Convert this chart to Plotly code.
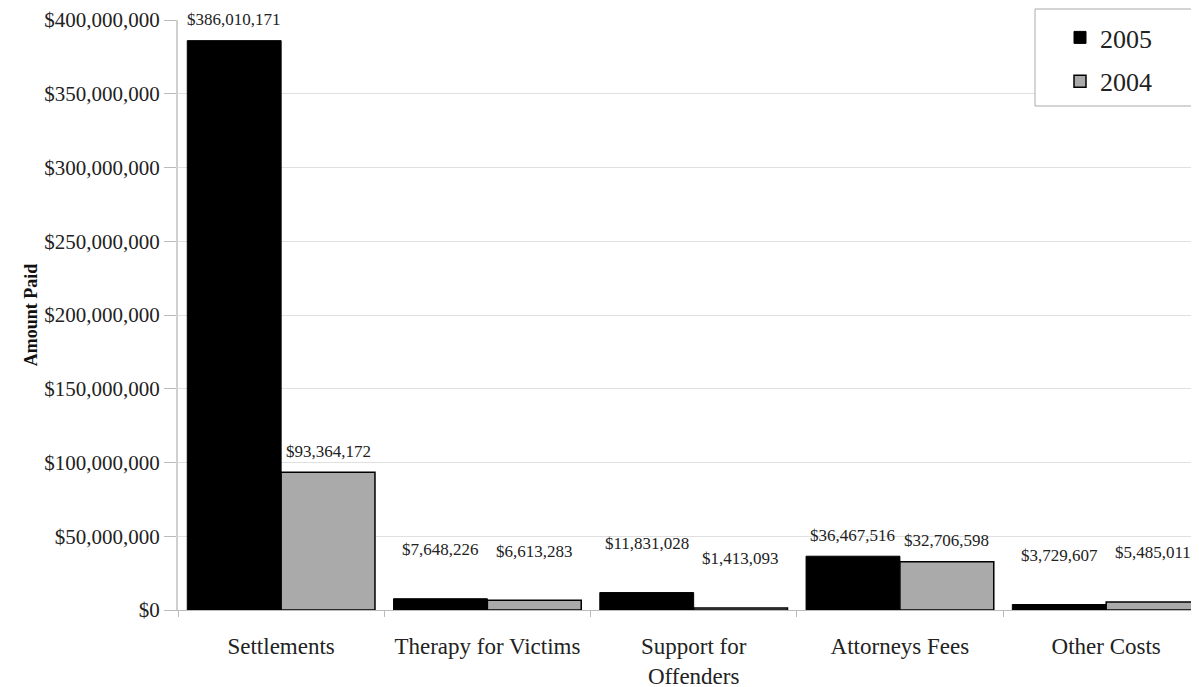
import plotly.graph_objects as go

categories = ["Settlements", "Therapy for Victims", "Support for<br>Offenders", "Attorneys Fees", "Other Costs"]
values_2005 = [386010171, 7648226, 11831028, 36467516, 3729607]
values_2004 = [93364172, 6613283, 1413093, 32706598, 5485011]
y_ticks = [0, 50e6, 100e6, 150e6, 200e6, 250e6, 300e6, 350e6, 400e6]
y_tick_text = ["$0", "$50,000,000", "$100,000,000", "$150,000,000", "$200,000,000",
               "$250,000,000", "$300,000,000", "$350,000,000", "$400,000,000"]

FONT = "Liberation Serif, Times New Roman, serif"
TXT = "#222222"
BARGAP = 0.09

fig = go.Figure()
fig.add_trace(go.Bar(
    x=categories, y=values_2005, name="2005", legendgroup="a",
    marker=dict(color="#000000", line=dict(color="#000000", width=1)),
))
fig.add_trace(go.Bar(
    x=categories, y=values_2004, name="2004", legendgroup="b",
    marker=dict(color="#aaaaaa", line=dict(color="#000000", width=1.5)),
))

# data labels derived from the series values
half = (1 - BARGAP) / 4
annotations = []
for i, (a, b) in enumerate(zip(values_2005, values_2004)):
    for off, v in ((-half, a), (half, b)):
        annotations.append(dict(
            x=i + off, y=v, xref="x", yref="y", text=f"${v:,}", showarrow=False,
            yanchor="middle", yshift=(21 if v > 2e7 else 49),
            font=dict(family=FONT, size=17, color=TXT),
        ))

W, H = 1191, 679
L, R, T, B = 170, 0, 12, 77
pw, ph = W - L - R, H - T - B

fig.update_layout(
    width=W, height=H,
    margin=dict(l=L, r=R, t=T, b=B, autoexpand=False),
    paper_bgcolor="white", plot_bgcolor="white",
    barmode="group", bargap=BARGAP, bargroupgap=0,
    font=dict(family=FONT, color=TXT),
    showlegend=True,
    legend=dict(
        x=(1052 - L) / pw, xanchor="left", y=(H - B - 6) / ph, yanchor="top",
        bgcolor="rgba(0,0,0,0)", borderwidth=0,
        font=dict(family=FONT, size=26, color=TXT),
        tracegroupgap=7, traceorder="grouped",
    ),
    shapes=[dict(
        type="rect", xref="paper", yref="paper",
        x0=(1027 - L) / pw, x1=(W - 1 - L) / pw,
        y0=(H - B - 98) / ph, y1=(H - B - 1) / ph,
        fillcolor="white", line=dict(color="#aaaaaa", width=1), layer="above",
    )],
    annotations=annotations,
)

fig.update_xaxes(
    range=[-0.5, 4.45], automargin=False,
    tickfont=dict(family=FONT, size=23, color=TXT),
    showline=True, linecolor="#bbbbbb", linewidth=1,
    ticks="outside", tickson="boundaries", ticklen=6, tickcolor="#bbbbbb",
    ticklabelstandoff=15,
    showgrid=False,
)
fig.update_yaxes(
    range=[0, 400e6], tickvals=y_ticks, ticktext=y_tick_text, automargin=False,
    tickfont=dict(family=FONT, size=21, color=TXT),
    showline=True, linecolor="#d0d0d0", linewidth=2,
    ticks="outside", ticklen=12, tickcolor="#bbbbbb",
    showgrid=True, gridcolor="#e0e0e0", gridwidth=1,
    zeroline=False,
    title=dict(text="<b>Amount Paid</b>", font=dict(family=FONT, size=18, color="#111111"), standoff=2),
)

fig.write_html("out.html")
